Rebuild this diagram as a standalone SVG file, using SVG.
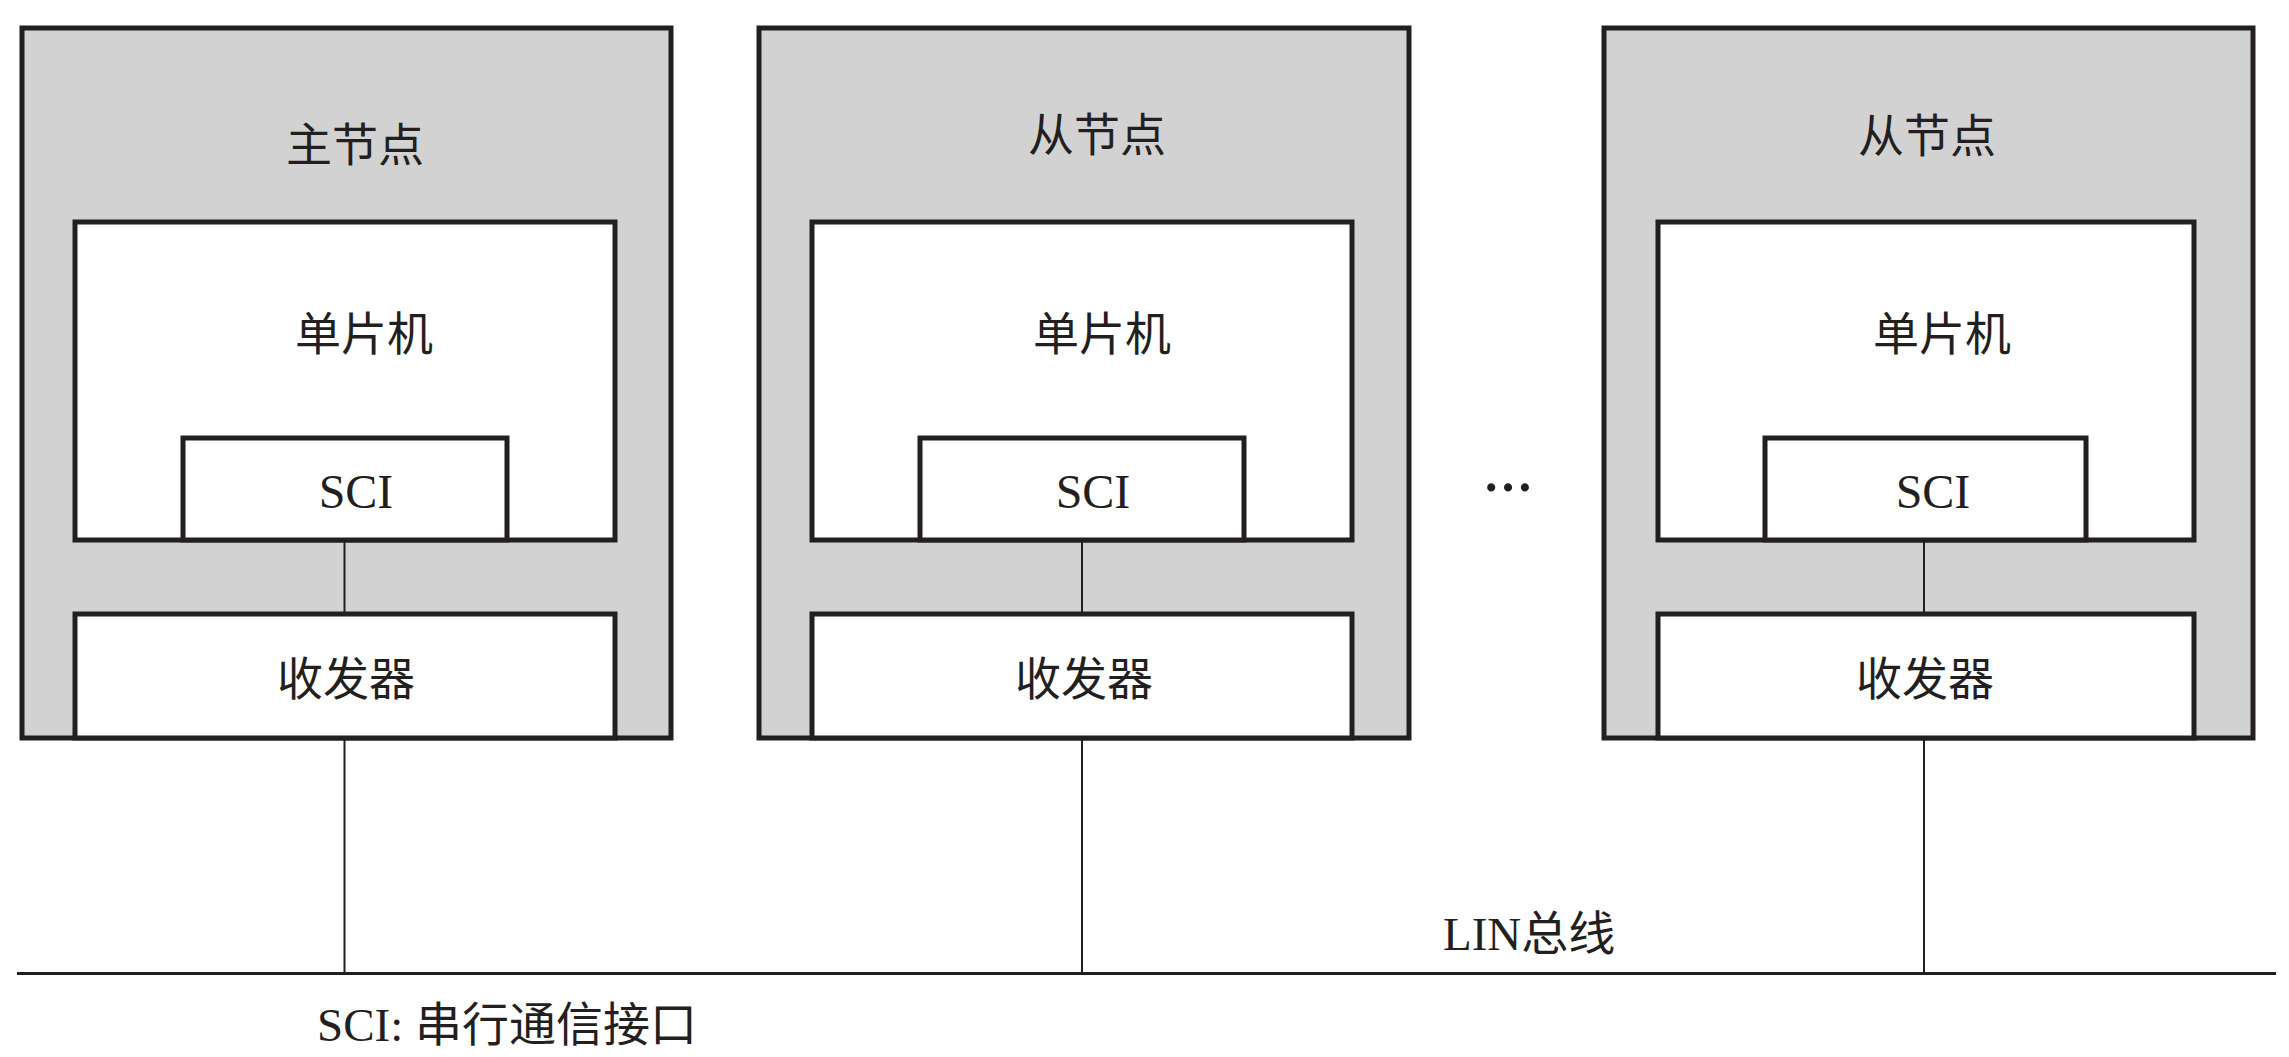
<svg xmlns="http://www.w3.org/2000/svg" width="2289" height="1057" viewBox="0 0 2289 1057">
<style>
.outer{fill:#d2d2d2;stroke:#231f20;stroke-width:5}
.inner{fill:#fff;stroke:#231f20;stroke-width:5}
.wire{stroke:#231f20;stroke-width:2;fill:none}
.bus{stroke:#231f20;stroke-width:3;fill:none}
text{font-family:"Liberation Serif","Noto Sans CJK SC",serif;fill:#231f20;text-anchor:middle}
.cj{font-size:46px}
.sci{font-size:48px}
</style>
<rect width="2289" height="1057" fill="#fff"/>
<g id="master">
<rect class="outer" x="22" y="28" width="649" height="710"/>
<text class="cj" x="355" y="161">主节点</text>
<rect class="inner" x="75" y="222" width="540" height="318"/>
<text class="cj" x="364" y="350">单片机</text>
<rect class="inner" x="183" y="438" width="324" height="102"/>
<text class="sci" x="356" y="508">SCI</text>
<rect class="inner" x="75" y="614" width="540" height="124"/>
<text class="cj" x="346" y="695">收发器</text>
</g>
<g id="slave1">
<rect class="outer" x="759" y="28" width="650" height="710"/>
<text class="cj" x="1097" y="151">从节点</text>
<rect class="inner" x="812" y="222" width="540" height="318"/>
<text class="cj" x="1102" y="350">单片机</text>
<rect class="inner" x="920" y="438" width="324" height="102"/>
<text class="sci" x="1093" y="508">SCI</text>
<rect class="inner" x="812" y="614" width="540" height="124"/>
<text class="cj" x="1084" y="695">收发器</text>
</g>
<g id="slave2">
<rect class="outer" x="1604" y="28" width="649" height="710"/>
<text class="cj" x="1927" y="152">从节点</text>
<rect class="inner" x="1658" y="222" width="536" height="318"/>
<text class="cj" x="1942" y="350">单片机</text>
<rect class="inner" x="1765" y="438" width="321" height="102"/>
<text class="sci" x="1933" y="508">SCI</text>
<rect class="inner" x="1658" y="614" width="536" height="124"/>
<text class="cj" x="1925" y="695">收发器</text>
</g>
<g id="ellipsis">
<text x="1508" y="491" style="font-size:50px;font-weight:bold">…</text>
</g>
<g id="connectors">
<line class="wire" x1="344.5" y1="542" x2="344.5" y2="612"/>
<line class="wire" x1="1082" y1="542" x2="1082" y2="612"/>
<line class="wire" x1="1924" y1="542" x2="1924" y2="612"/>
<line class="wire" x1="344.5" y1="740" x2="344.5" y2="973"/>
<line class="wire" x1="1082" y1="740" x2="1082" y2="973"/>
<line class="wire" x1="1924" y1="740" x2="1924" y2="973"/>
<line class="bus" x1="17" y1="973.5" x2="2276" y2="973.5"/>
</g>
<g id="labels">
<text style="font-size:47px;text-anchor:start" x="1443" y="950">LIN总线</text>
<text style="font-size:47px;text-anchor:start" x="317" y="1041">SCI: 串行通信接口</text>
</g>
</svg>
